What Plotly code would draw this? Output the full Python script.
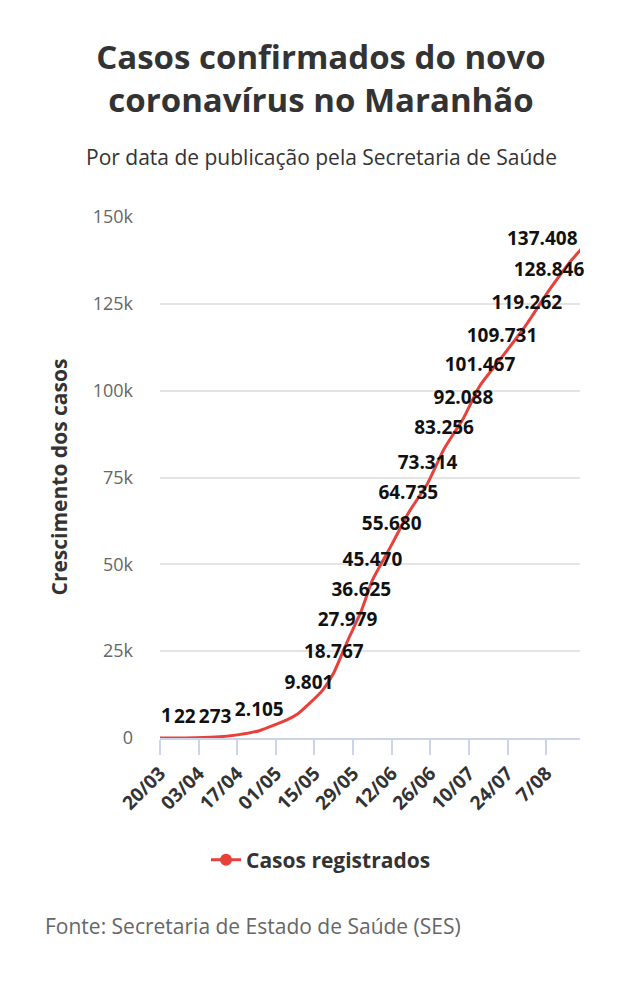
import plotly.graph_objects as go

# Casos confirmados (SES/MA)
datas = ["2020-03-20", "2020-03-29", "2020-04-09", "2020-04-17", "2020-04-25",
         "2020-05-01", "2020-05-05", "2020-05-09", "2020-05-13", "2020-05-18",
         "2020-05-22", "2020-05-27", "2020-06-01", "2020-06-05", "2020-06-12",
         "2020-06-18", "2020-06-25", "2020-07-01", "2020-07-08", "2020-07-14",
         "2020-07-22", "2020-07-31", "2020-08-08", "2020-08-16", "2020-08-20"]
casos = [1, 22, 273, 900, 2105,
         3900, 5200, 7000, 9801, 13800,
         18767, 27979, 36625, 45470, 55680,
         64735, 73314, 83256, 92088, 101467,
         109731, 119262, 128846, 137408, 141000]
# pontos com rótulo
rotulo_datas = ["2020-03-20", "2020-03-29", "2020-04-09", "2020-04-25", "2020-05-13",
                "2020-05-22", "2020-05-27", "2020-06-01", "2020-06-05", "2020-06-12",
                "2020-06-18", "2020-06-25", "2020-07-01", "2020-07-08", "2020-07-14",
                "2020-07-22", "2020-07-31", "2020-08-08", "2020-08-16"]
rotulo_casos = [1, 22, 273, 2105, 9801, 18767, 27979, 36625, 45470, 55680,
                64735, 73314, 83256, 92088, 101467, 109731, 119262, 128846, 137408]

x_ticks = ["2020-03-20", "2020-04-03", "2020-04-17", "2020-05-01", "2020-05-15",
           "2020-05-29", "2020-06-12", "2020-06-26", "2020-07-10", "2020-07-24",
           "2020-08-07"]
x_ticktext = ["20/03", "03/04", "17/04", "01/05", "15/05", "29/05", "12/06",
              "26/06", "10/07", "24/07", "7/08"]
y_ticks = [0, 25000, 50000, 75000, 100000, 125000, 150000]
y_ticktext = ["0", "25k", "50k", "75k", "100k", "125k", "150k"]

RED = "#e8413c"
FONT = "Open Sans"
LABEL_FONT = dict(family=FONT, size=19, color="#111111", weight="bold")

textos = [f"{v:,}".replace(",", ".") for v in rotulo_casos]

fig = go.Figure()
fig.add_trace(go.Scatter(
    x=datas, y=casos, mode="lines",
    line=dict(color=RED, width=3, shape="spline", smoothing=0.5),
    showlegend=False, hoverinfo="x+y",
))
# rótulos do meio; o primeiro e o último ficam presos às bordas do gráfico
fig.add_trace(go.Scatter(
    x=rotulo_datas[1:-1], y=rotulo_casos[1:-1], mode="markers+text",
    marker=dict(size=14, opacity=0, color=RED),
    text=textos[1:-1], textposition="top center",
    textfont=LABEL_FONT,
    showlegend=False, hoverinfo="skip", cliponaxis=False,
))
# entrada da legenda
fig.add_trace(go.Scatter(
    x=[None], y=[None], mode="lines+markers", name="Casos registrados",
    line=dict(color=RED, width=3), marker=dict(color=RED, size=12),
))

fig.add_annotation(x=rotulo_datas[0], y=rotulo_casos[0], text=textos[0],
                   xanchor="left", yanchor="middle", xshift=0, yshift=23,
                   borderpad=0, showarrow=False, font=LABEL_FONT)
fig.add_annotation(x=1, xref="paper", y=rotulo_casos[-1], text=textos[-1],
                   xanchor="right", yanchor="middle", yshift=23,
                   showarrow=False, font=LABEL_FONT)

fig.update_layout(
    width=642, height=1000,
    margin=dict(l=152, r=70, t=209, b=270),
    paper_bgcolor="white", plot_bgcolor="white",
    font=dict(family=FONT, color="#333333"),
    title=dict(
        text="Casos confirmados do novo<br>coronavírus no Maranhão",
        x=313 / 642, xanchor="center", xref="container",
        y=1 - 61 / 1000, yanchor="middle", yref="container",
        font=dict(family=FONT, size=33, color="#333333", weight="bold"),
    ),
    xaxis=dict(
        type="date",
        range=["2020-03-20", "2020-08-19 06:00"],
        tickvals=x_ticks, ticktext=x_ticktext, tickangle=-45,
        tickfont=dict(family=FONT, size=19, color="#333333", weight="bold"),
        showgrid=False, showline=True, linecolor="#c9d5e8", linewidth=1.5,
        ticks="outside", ticklen=15, tickcolor="#c9d5e8", tickwidth=1.5,
        zeroline=False,
    ),
    yaxis=dict(
        range=[0, 150000],
        tickvals=y_ticks, ticktext=y_ticktext,
        tickfont=dict(family=FONT, size=18, color="#666666"),
        showgrid=True, gridcolor="#e4e4e4", gridwidth=1.5,
        zeroline=False, showline=False, ticks="",
        ticklabelstandoff=26,
    ),
    legend=dict(
        orientation="h", x=(321 - 160) / 420, xanchor="center",
        y=-(860 - 738) / 521, yanchor="middle",
        font=dict(family=FONT, size=21, color="#333333", weight="bold"),
    ),
)
fig.add_annotation(text="Por data de publicação pela Secretaria de Saúde",
                   xref="paper", yref="paper", x=(321 - 160) / 420, y=(738 - 157) / 521,
                   xanchor="center", yanchor="middle", showarrow=False,
                   font=dict(family=FONT, size=21, color="#333333"))
fig.add_annotation(text="Crescimento dos casos",
                   xref="paper", yref="paper", x=(58 - 160) / 420, y=0.5,
                   xanchor="center", yanchor="middle", showarrow=False, textangle=-90,
                   font=dict(family=FONT, size=21, color="#333333", weight="bold"))
fig.add_annotation(text="Fonte: Secretaria de Estado de Saúde (SES)",
                   xref="paper", yref="paper", x=(43 - 160) / 420, y=-(926 - 738) / 521,
                   xanchor="left", yanchor="middle", showarrow=False,
                   font=dict(family=FONT, size=21, color="#666666"))

fig.write_html("out.html")
